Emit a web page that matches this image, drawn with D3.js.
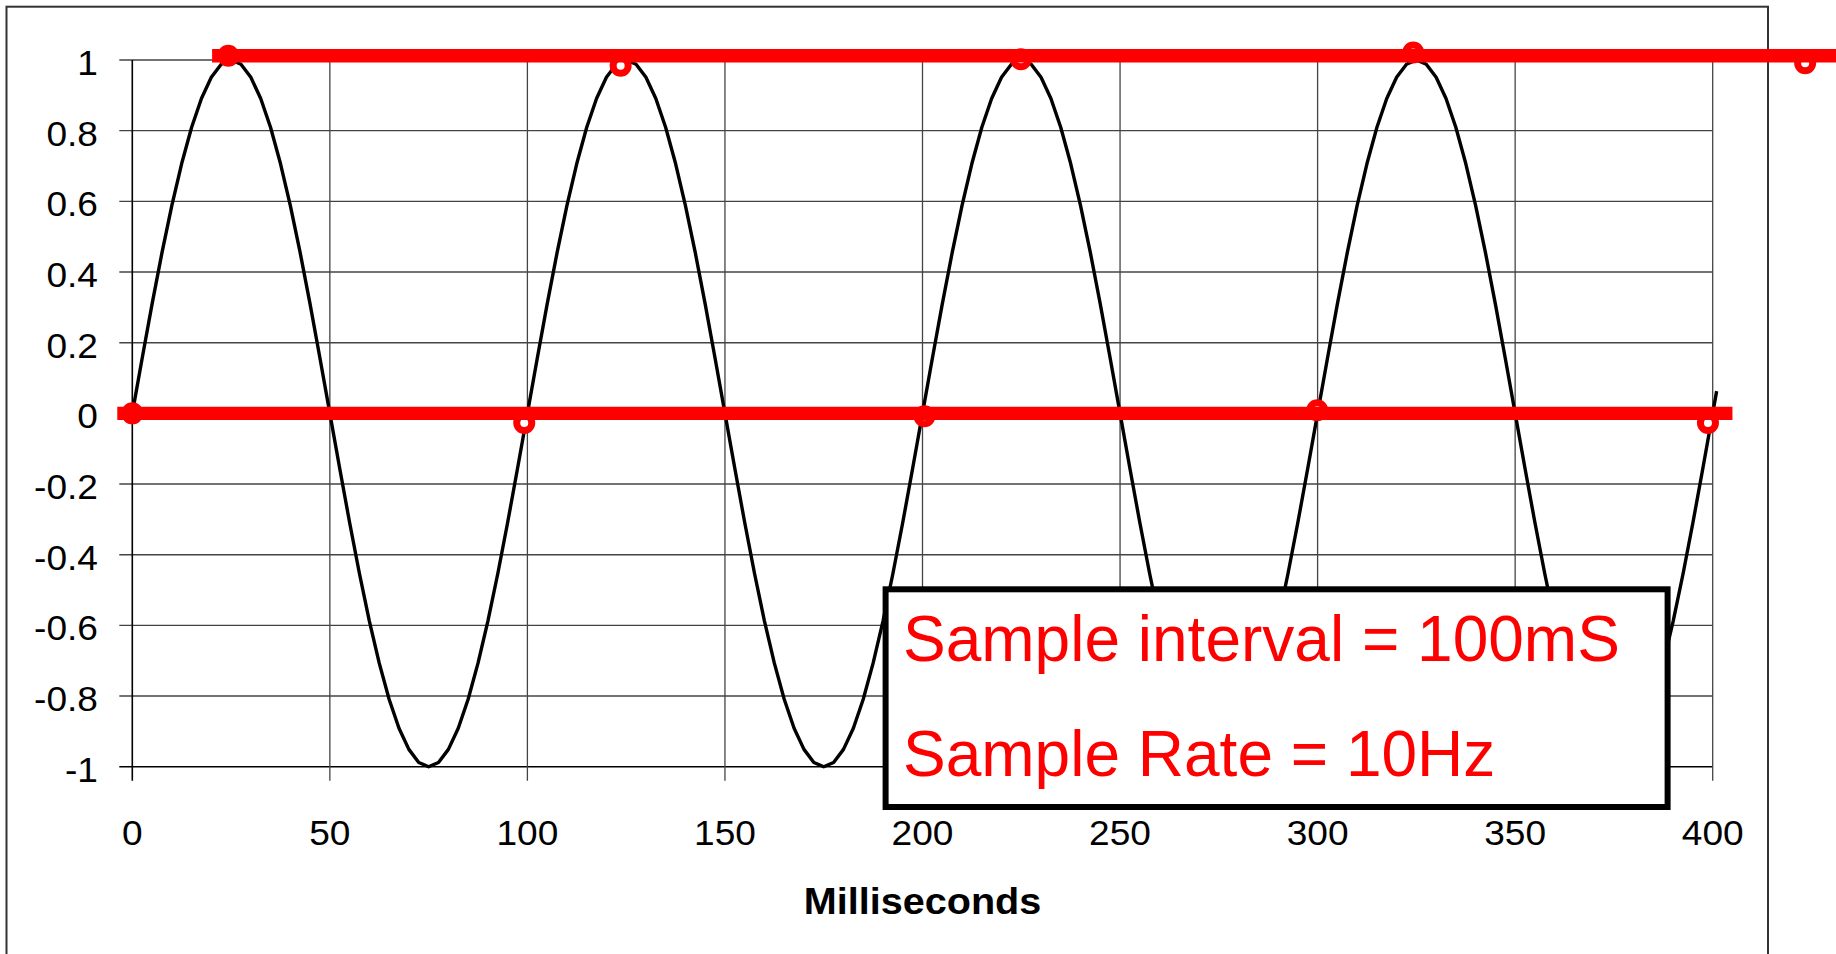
<!DOCTYPE html>
<html>
<head>
<meta charset="utf-8">
<script src="https://cdn.jsdelivr.net/npm/d3@7/dist/d3.min.js"></script>
<style>
  html, body { margin: 0; padding: 0; background: #fff; }
  svg { display: block; }
</style>
</head>
<body>
<svg id="chart" width="1836" height="954"></svg>
<script>
// ---------------- DATA ----------------
const xTicks = [0, 50, 100, 150, 200, 250, 300, 350, 400];
const xTickLabels = ["0", "50", "100", "150", "200", "250", "300", "350", "400"];
const yTicks = [1, 0.8, 0.6, 0.4, 0.2, 0, -0.2, -0.4, -0.6, -0.8, -1];
const yTickLabels = ["1", "0.8", "0.6", "0.4", "0.2", "0", "-0.2", "-0.4", "-0.6", "-0.8", "-1"];
const xAxisTitle = "Milliseconds";

// Sine wave, one reading every 2.5 ms (0 .. 400 ms) plus the tail at 401 ms
const waveTimes = d3.range(0, 400.01, 2.5).concat([401]);
const waveValues = [
  0, 0.156, 0.309, 0.454, 0.588, 0.707, 0.809, 0.891, 0.951, 0.988,
  1, 0.988, 0.951, 0.891, 0.809, 0.707, 0.588, 0.454, 0.309, 0.156,
  0, -0.156, -0.309, -0.454, -0.588, -0.707, -0.809, -0.891, -0.951, -0.988,
  -1, -0.988, -0.951, -0.891, -0.809, -0.707, -0.588, -0.454, -0.309, -0.156,
  0, 0.156, 0.309, 0.454, 0.588, 0.707, 0.809, 0.891, 0.951, 0.988,
  1, 0.988, 0.951, 0.891, 0.809, 0.707, 0.588, 0.454, 0.309, 0.156,
  0, -0.156, -0.309, -0.454, -0.588, -0.707, -0.809, -0.891, -0.951, -0.988,
  -1, -0.988, -0.951, -0.891, -0.809, -0.707, -0.588, -0.454, -0.309, -0.156,
  0, 0.156, 0.309, 0.454, 0.588, 0.707, 0.809, 0.891, 0.951, 0.988,
  1, 0.988, 0.951, 0.891, 0.809, 0.707, 0.588, 0.454, 0.309, 0.156,
  0, -0.156, -0.309, -0.454, -0.588, -0.707, -0.809, -0.891, -0.951, -0.988,
  -1, -0.988, -0.951, -0.891, -0.809, -0.707, -0.588, -0.454, -0.309, -0.156,
  0, 0.156, 0.309, 0.454, 0.588, 0.707, 0.809, 0.891, 0.951, 0.988,
  1, 0.988, 0.951, 0.891, 0.809, 0.707, 0.588, 0.454, 0.309, 0.156,
  0, -0.156, -0.309, -0.454, -0.588, -0.707, -0.809, -0.891, -0.951, -0.988,
  -1, -0.988, -0.951, -0.891, -0.809, -0.707, -0.588, -0.454, -0.309, -0.156,
  0,
  0.063
];

// Sample points (red markers)
const topSampleTimes = [24.3, 123.6, 224.9, 324.2, 423.4];
const topSampleValues = [1.012, 0.984, 1.002, 1.021, 0.991];
const zeroSampleTimes = [0, 99.2, 200.5, 299.9, 398.8];
const zeroSampleValues = [0, -0.027, -0.008, 0.009, -0.027];

// Red sampled-signal lines (start/end time, level)
const topLineTimes = [20.2, 435];
const topLineValues = [1.012, 1.012];
const zeroLineTimes = [-3.8, 405];
const zeroLineValues = [0, 0];

const annotationLines = ["Sample interval = 100mS", "Sample Rate = 10Hz"];

// ---------------- LAYOUT ----------------
const svg = d3.select("#chart");
const FONT = "'Liberation Sans', Arial, Helvetica, sans-serif";

const x = d3.scaleLinear().domain([0, 400]).range([132.3, 1712.7]);
const y = d3.scaleLinear().domain([-1, 1]).range([766.7, 60]);

// outer chart border
svg.append("rect")
  .attr("x", 6.5).attr("y", 6.7)
  .attr("width", 1761.5).attr("height", 1000)
  .attr("fill", "#fff")
  .attr("stroke", "#333").attr("stroke-width", 2);

// horizontal gridlines (with outward ticks)
svg.append("g").selectAll("line").data(yTicks).join("line")
  .attr("x1", x(0) - 13).attr("x2", x(400))
  .attr("y1", d => y(d)).attr("y2", d => y(d))
  .attr("stroke", d => d === -1 ? "#000" : "#444")
  .attr("stroke-width", 1.4);

// vertical gridlines (with outward ticks)
svg.append("g").selectAll("line").data(xTicks).join("line")
  .attr("x1", d => x(d)).attr("x2", d => x(d))
  .attr("y1", y(1)).attr("y2", y(-1) + 14)
  .attr("stroke", d => d === 0 ? "#000" : "#444")
  .attr("stroke-width", d => d === 0 ? 1.6 : 1.3);

// y tick labels
svg.append("g").selectAll("text").data(yTicks).join("text")
  .attr("transform", d => `translate(98,${y(d) + 15}) scale(1.06,1)`)
  .attr("text-anchor", "end")
  .attr("font-family", FONT).attr("font-size", 35)
  .attr("fill", "#000")
  .text((d, i) => yTickLabels[i]);

// x tick labels
svg.append("g").selectAll("text").data(xTicks).join("text")
  .attr("transform", d => `translate(${x(d)},845) scale(1.06,1)`)
  .attr("text-anchor", "middle")
  .attr("font-family", FONT).attr("font-size", 35)
  .attr("fill", "#000")
  .text((d, i) => xTickLabels[i]);

// x axis title
svg.append("text")
  .attr("transform", `translate(${(x(0) + x(400)) / 2},914) scale(1.07,1)`)
  .attr("text-anchor", "middle")
  .attr("font-family", FONT).attr("font-size", 37).attr("font-weight", "bold")
  .attr("fill", "#000")
  .text(xAxisTitle);

// sine wave
const wave = waveTimes.map((t, i) => [t, waveValues[i]]);
svg.append("path")
  .datum(wave)
  .attr("d", d3.line().x(d => x(d[0])).y(d => y(d[1])))
  .attr("fill", "none")
  .attr("stroke", "#000")
  .attr("stroke-width", 3.4)
  .attr("stroke-linejoin", "round");

// annotation box
const box = svg.append("g");
box.append("rect")
  .attr("x", 885.6).attr("y", 589.3)
  .attr("width", 782).attr("height", 217.7)
  .attr("fill", "#fff")
  .attr("stroke", "#000").attr("stroke-width", 6);
box.selectAll("text").data(annotationLines).join("text")
  .attr("x", 903)
  .attr("y", (d, i) => i === 0 ? 661 : 776)
  .attr("font-family", FONT).attr("font-size", 64)
  .attr("fill", "#ff0000")
  .text(d => d);

// sample markers (rings), drawn below the red lines
const samples = topSampleTimes.map((t, i) => [t, topSampleValues[i]])
  .concat(zeroSampleTimes.map((t, i) => [t, zeroSampleValues[i]]));
svg.append("g").selectAll("circle").data(samples).join("circle")
  .attr("cx", d => x(d[0])).attr("cy", d => y(d[1]))
  .attr("r", 7.5)
  .attr("fill", "#fff")
  .attr("stroke", "#ff0000").attr("stroke-width", 7);

// red sampled-signal lines
const redLine = d3.line().x(d => x(d[0])).y(d => y(d[1]));
[[topLineTimes, topLineValues], [zeroLineTimes, zeroLineValues]].forEach(([ts, vs]) => {
  svg.append("path")
    .datum(ts.map((t, i) => [t, vs[i]]))
    .attr("d", redLine)
    .attr("fill", "none")
    .attr("stroke", "#ff0000")
    .attr("stroke-width", 13.4)
    .attr("stroke-linecap", "butt");
});
</script>
</body>
</html>
